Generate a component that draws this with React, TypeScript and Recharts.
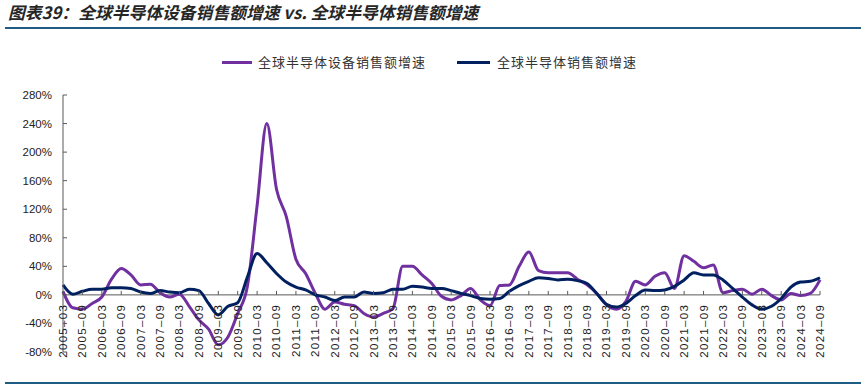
import React from 'react';
import { LineChart, Line, XAxis, YAxis, ReferenceLine } from 'recharts';

const categories = [
  '2005-03','2005-06','2005-09','2005-12',
  '2006-03','2006-06','2006-09','2006-12',
  '2007-03','2007-06','2007-09','2007-12',
  '2008-03','2008-06','2008-09','2008-12',
  '2009-03','2009-06','2009-09','2009-12',
  '2010-03','2010-06','2010-09','2010-12',
  '2011-03','2011-06','2011-09','2011-12',
  '2012-03','2012-06','2012-09','2012-12',
  '2013-03','2013-06','2013-09','2013-12',
  '2014-03','2014-06','2014-09','2014-12',
  '2015-03','2015-06','2015-09','2015-12',
  '2016-03','2016-06','2016-09','2016-12',
  '2017-03','2017-06','2017-09','2017-12',
  '2018-03','2018-06','2018-09','2018-12',
  '2019-03','2019-06','2019-09','2019-12',
  '2020-03','2020-06','2020-09','2020-12',
  '2021-03','2021-06','2021-09','2021-12',
  '2022-03','2022-06','2022-09','2022-12',
  '2023-03','2023-06','2023-09','2023-12',
  '2024-03','2024-06','2024-09',
];

// 全球半导体设备销售额增速 (%)
const equipmentGrowth = [
  5, -18, -20, -12,
  -3, 22, 37, 28,
  14, 15, 3, -3,
  1, -16, -35, -48,
  -70, -59, -26, 12,
  125, 240, 148, 110,
  50, 30, 2, -20,
  -10, -13, -15, -26,
  -31, -26, -19, 40,
  40, 28, 16, -2,
  -7, -1, 9, -7,
  -15, 13, 14, 40,
  60, 34, 31, 31,
  31, 22, 14, 2,
  -14, -20, -9, 19,
  14, 26, 31, 9,
  55, 47, 38, 42,
  3, 6, 8, 1,
  8, -1, -7, 2,
  -1, 2, 21,
];

// 全球半导体销售额增速 (%)
const semiGrowth = [
  14, 1, 5, 8,
  8, 10, 10, 9,
  4, 2, 6, 4,
  3, 8, 6, -12,
  -28, -16, -11, 25,
  58, 45, 30, 18,
  11, 7, 0, -3,
  -8, -3, -3, 4,
  2, 3, 8, 8,
  12, 11, 9, 9,
  6, 2, -1, -5,
  -6, -5, 5, 13,
  19, 24, 23, 21,
  22, 20, 16, 2,
  -13, -17, -12, -1,
  7, 6, 7, 12,
  21, 31, 28, 28,
  21, 9, -3, -14,
  -20, -16, -5, 11,
  18, 19, 24,
];

const yTicks = [-80, -40, 0, 40, 80, 120, 160, 200, 240, 280];
const seriesNames = ['全球半导体设备销售额增速', '全球半导体销售额增速'];
const seriesColors = ['#7030A0', '#002060'];
const titleText = '图表39：全球半导体设备销售额增速 vs. 全球半导体销售额增速';

const data = categories.map((c, i) => ({
  date: c,
  equip: equipmentGrowth[i],
  semi: semiGrowth[i],
}));

const W = 865;
const H = 389;
const X_AXIS_H = 20;
const MARGIN = { top: 95, right: 45, bottom: 37 - X_AXIS_H, left: 0 };
const Y_AXIS_W = 63;
const Y_MIN = yTicks[0];
const Y_MAX = yTicks[yTicks.length - 1];
const PLOT_H = H - MARGIN.top - MARGIN.bottom - X_AXIS_H;
const ZERO_Y = MARGIN.top + (PLOT_H * (Y_MAX - 0)) / (Y_MAX - Y_MIN);
const AXIS_COLOR = '#595959';
const FONT = '"Liberation Sans", Arial, sans-serif';
const CJK = '"Noto Sans CJK SC", sans-serif';

const XTick = (props: any) => {
  const { x, payload } = props;
  const ty = ZERO_Y + 9;
  return (
    <g>
      <line x1={x} x2={x} y1={ZERO_Y} y2={ZERO_Y - 4} stroke={AXIS_COLOR} strokeWidth={1} />
      <text
        x={x}
        y={ty}
        transform={`rotate(-90 ${x} ${ty})`}
        textAnchor="end"
        dominantBaseline="central"
        fontSize={11.5}
        letterSpacing={1.3}
        fontFamily={FONT}
        fill="#222"
      >
        {String(payload.value).replace('-', '–')}
      </text>
    </g>
  );
};

const YTick = (props: any) => {
  const { x, y, payload } = props;
  return (
    <g>
      <line x1={x} x2={x + 4} y1={y} y2={y} stroke={AXIS_COLOR} strokeWidth={1} />
      <text
        x={x - 11}
        y={y}
        textAnchor="end"
        dominantBaseline="central"
        fontSize={11.5}
        fontFamily={FONT}
        fill="#222"
      >
        {`${payload.value}%`}
      </text>
    </g>
  );
};

export default function App() {
  return (
    <div
      style={{
        position: 'absolute',
        left: 0,
        top: 0,
        width: W,
        height: H,
        background: '#fff',
        overflow: 'hidden',
      }}
    >
      <div
        style={{
          position: 'absolute',
          left: 8,
          top: 1,
          fontFamily: CJK,
          fontSize: 16.8,
          fontWeight: 700,
          fontStyle: 'italic',
          color: '#262626',
          whiteSpace: 'nowrap',
          lineHeight: '22px',
        }}
      >
        {titleText}
      </div>
      <div style={{ position: 'absolute', left: 5, top: 27, width: 856, height: 2, background: '#1F5C85' }} />
      <div style={{ position: 'absolute', left: 5, top: 382, width: 856, height: 2, background: '#1F5C85' }} />

      {/* legend */}
      <div style={{ position: 'absolute', left: 222, top: 61, width: 30, height: 3, background: seriesColors[0] }} />
      <div
        style={{
          position: 'absolute',
          left: 258,
          top: 52,
          fontFamily: CJK,
          fontSize: 13,
          letterSpacing: 1,
          color: '#333',
          whiteSpace: 'nowrap',
          lineHeight: '20px',
        }}
      >
        {seriesNames[0]}
      </div>
      <div style={{ position: 'absolute', left: 457, top: 61, width: 33, height: 3, background: seriesColors[1] }} />
      <div
        style={{
          position: 'absolute',
          left: 497,
          top: 52,
          fontFamily: CJK,
          fontSize: 13,
          letterSpacing: 1,
          color: '#333',
          whiteSpace: 'nowrap',
          lineHeight: '20px',
        }}
      >
        {seriesNames[1]}
      </div>

      <div style={{ position: 'absolute', left: 0, top: 0 }}>
        <LineChart width={W} height={H} data={data} margin={MARGIN}>
          <XAxis
            dataKey="date"
            interval={1}
            height={X_AXIS_H}
            axisLine={false}
            tickLine={false}
            tick={<XTick />}
          />
          <YAxis
            width={Y_AXIS_W}
            domain={[Y_MIN, Y_MAX]}
            ticks={yTicks}
            type="number"
            allowDataOverflow
            tickSize={0}
            tickMargin={0}
            tickLine={false}
            axisLine={{ stroke: AXIS_COLOR, strokeWidth: 1 }}
            tick={<YTick />}
          />
          <ReferenceLine y={0} stroke={AXIS_COLOR} strokeWidth={1} />
          <Line
            type="monotone"
            dataKey="equip"
            name={seriesNames[0]}
            stroke={seriesColors[0]}
            strokeWidth={3}
            dot={false}
            isAnimationActive={false}
          />
          <Line
            type="monotone"
            dataKey="semi"
            name={seriesNames[1]}
            stroke={seriesColors[1]}
            strokeWidth={3}
            dot={false}
            isAnimationActive={false}
          />
        </LineChart>
      </div>
    </div>
  );
}
